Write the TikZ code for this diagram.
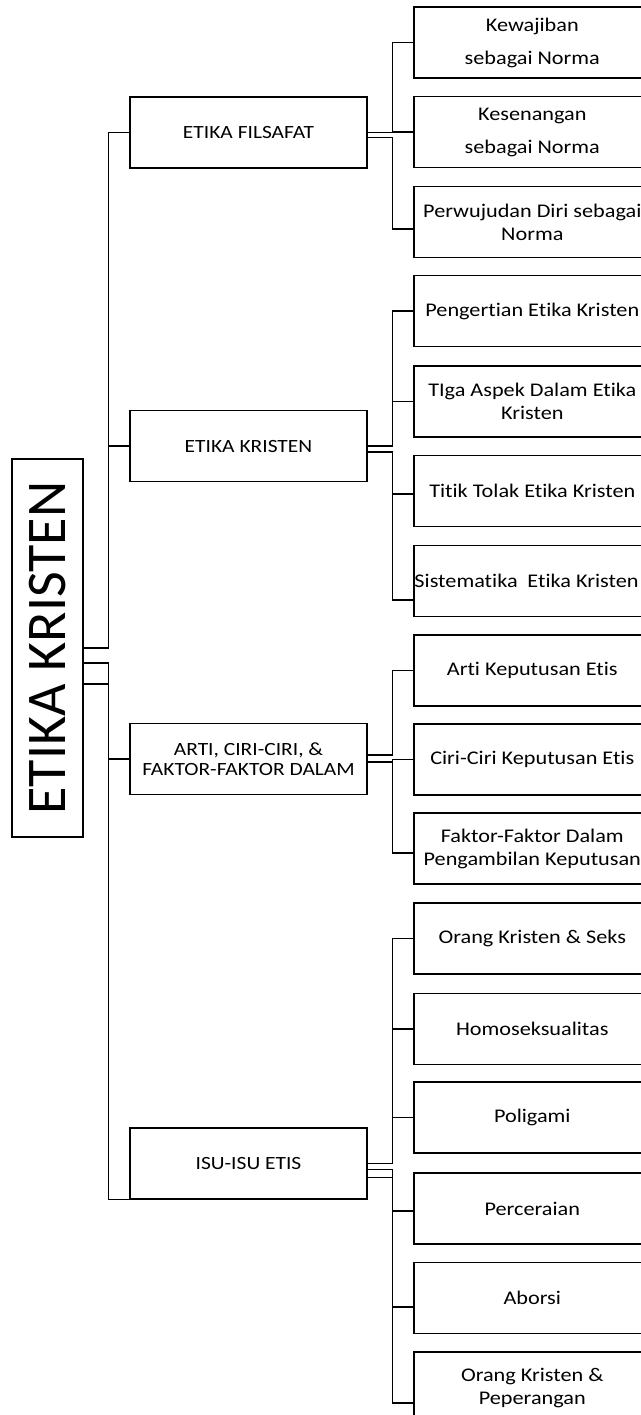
\documentclass[tikz,border=0pt]{standalone}
\usepackage{fontspec}
\setmainfont[FakeStretch=1.15, Ligatures=NoCommon]{Carlito}
\newfontfamily\judulfont[Ligatures=NoCommon]{Carlito}
\usetikzlibrary{calc}

\tikzset{every picture/.style={line width=0.75pt}}
\tikzset{
	kotak/.style={draw, line width=1.2pt, minimum width=177.75pt, minimum height=53.25pt, inner sep=0pt, align=center},
	topik/.style={kotak, font=\fontsize{14}{15}\selectfont},
	subtopik/.style={kotak, anchor=west, font=\fontsize{14.5}{17.25}\selectfont},
	garis/.style={line width=1pt},
}

\begin{document}
\begin{tikzpicture}[x=0.75pt,y=0.75pt,yscale=-1,xscale=1]
	\useasboundingbox (0,0) rectangle (641,1415);

	% Root
	\node [draw, line width=1.2pt, minimum width=53.25pt, minimum height=283.5pt, inner sep=0pt, font=\judulfont\fontsize{42}{42}\selectfont] (akar) at (47.5,648) {\rotatebox{90}{ETIKA KRISTEN}};

	% Topik
	\node [topik] (fil) at (248.5,132.5) {ETIKA FILSAFAT};
	\node [topik] (kri) at (248.5,446) {ETIKA KRISTEN};
	\node [topik] (art) at (248.5,759) {ARTI, CIRI-CIRI, \&\\FAKTOR-FAKTOR DALAM};
	\node [topik] (isu) at (248.5,1163.5) {ISU-ISU ETIS};

	% Sub topik
	\node [subtopik] (fil1) at (413,42.5) {Kewajiban\\[7.5pt]sebagai Norma};
	\node [subtopik] (fil2) at (413,132) {Kesenangan\\[7.5pt]sebagai Norma};
	\node [subtopik] (fil3) at (413,222) {Perwujudan Diri sebagai\\Norma};
	\node [subtopik] (kri1) at (413,311) {Pengertian Etika Kristen};
	\node [subtopik] (kri2) at (413,401.5) {TIga Aspek Dalam Etika\\Kristen};
	\node [subtopik] (kri3) at (413,491) {Titik Tolak Etika Kristen};
	\node [subtopik] (kri4) at (413,581) {Sistematika\hspace{0.25em} Etika Kristen\hspace{0.6em}};
	\node [subtopik] (art1) at (413,670.5) {Arti Keputusan Etis};
	\node [subtopik] (art2) at (413,759.5) {Ciri-Ciri Keputusan Etis};
	\node [subtopik] (art3) at (413,848.5) {Faktor-Faktor Dalam\\Pengambilan Keputusan};
	\node [subtopik] (isu1) at (413,938.5) {Orang Kristen \& Seks};
	\node [subtopik] (isu2) at (413,1029) {Homoseksualitas};
	\node [subtopik] (isu3) at (413,1117.5) {Poligami};
	\node [subtopik] (isu4) at (413,1208.5) {Perceraian};
	\node [subtopik] (isu5) at (413,1298) {Aborsi};
	\node [subtopik] (isu6) at (413,1387.5) {Orang Kristen \&\\Peperangan};

	% Garis dari akar
	\draw [garis] (akar.east) -- ++(25,0) |- (fil.west);
	\draw [garis] (akar.east) -- ++(25,0) |- (kri.west);
	\draw [garis] ($(akar.east)+(0,15)$) -- ++(25,0) |- (art.west);
	\draw [garis] ($(akar.east)+(0,36)$) -- ++(25,0) |- (isu.south west);

	% Etika filsafat
	\draw [garis] (fil.east) -- ++(25,0) |- (fil1.west);
	\draw [garis] (fil.east) -- ++(25,0) |- (fil2.west);
	\draw [garis] ($(fil.east)+(0,5)$) -- ++(25,0) |- ($(fil3.west)+(0,7)$);

	% Etika kristen
	\draw [garis] (kri.east) -- ++(25,0) |- (kri1.west);
	\draw [garis] (kri.east) -- ++(25,0) |- (kri2.west);
	\draw [garis] ($(kri.east)+(0,6)$) -- ++(25,0) |- ($(kri3.west)+(0,3)$);
	\draw [garis] ($(kri.east)+(0,6)$) -- ++(25,0) |- ($(kri4.west)+(0,19)$);

	% Arti, ciri-ciri
	\draw [garis] ($(art.east)+(0,-4)$) -- ++(25,0) |- (art1.west);
	\draw [garis] ($(art.east)+(0,3)$) -- ++(25,0) |- (art2.west);
	\draw [garis] ($(art.east)+(0,3)$) -- ++(25,0) |- ($(art3.west)+(0,4.5)$);

	% Isu-isu etis
	\draw [garis] (isu.east) -- ++(25,0) |- (isu1.west);
	\draw [garis] (isu.east) -- ++(25,0) |- (isu2.west);
	\draw [garis] (isu.east) -- ++(25,0) |- (isu3.west);
	\draw [garis] ($(isu.east)+(0,6)$) -- ++(25,0) |- ($(isu4.west)+(0,2.5)$);
	\draw [garis] ($(isu.east)+(0,14)$) -- ++(25,0) |- ($(isu5.west)+(0,9)$);
	\draw [garis] ($(isu.east)+(0,14)$) -- ++(25,0) |- ($(isu6.west)+(0,15.5)$);

\end{tikzpicture}
\end{document}
